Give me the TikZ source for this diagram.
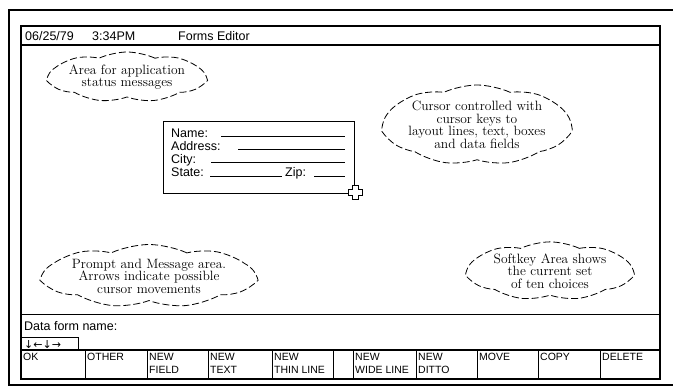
\documentclass[tikz,border=0pt]{standalone}
\usepackage{fontspec}
\setsansfont{Liberation Sans}
\newfontfamily\arrowfont{DejaVu Sans}
\usetikzlibrary{shapes.symbols}

\tikzset{
  note/.style={cloud, cloud puffs=9, cloud puff arc=50, cloud ignores aspect, draw, line width=0.8pt,
    dash pattern=on 7pt off 3pt, align=center, inner sep=0pt, font=\fontsize{13.5}{12.5}\selectfont},
  scrtext/.style={anchor=base west, inner sep=0pt, font=\sffamily\fontsize{12.5}{13}\selectfont},
  keylabel/.style={anchor=north west, align=left, inner sep=0pt, font=\sffamily\fontsize{10.5}{13.5}\selectfont},
}

\begin{document}
\begin{tikzpicture}[x=1pt,y=-1pt]
\useasboundingbox (0,0) rectangle (673,388);
% terminal and screen
\draw[line width=1.8pt] (673,10) -- (9,10) -- (9,385) -- (673,385);
\draw[line width=1.2pt] (21,26) rectangle (660,379);
\draw[line width=1.2pt] (21,45) -- (660,45);
\draw[line width=1pt] (21,314) -- (660,314);
\draw[line width=1.2pt] (21,350) -- (660,350);
\draw[line width=1pt] (21,337) -- (78,337) -- (78,350);

\node[scrtext] (date) at (25,40) {06/25/79};
\node[scrtext] (time) at (92,40) {3:34PM};
\node[scrtext] (title) at (178,40) {Forms Editor};

% the form
\node[draw, line width=1pt, anchor=north west, inner sep=0pt, minimum width=191, minimum height=72] (form) at (163,121) {};
\node[scrtext] (name) at (171,137) {Name:};
\node[scrtext] (address) at (171,150) {Address:};
\node[scrtext] (city) at (171,163) {City:};
\node[scrtext] (state) at (171,176) {State:};
\node[scrtext] (zip) at (285,176) {Zip:};
\draw[line width=1pt] (221,136) -- (345,136);
\draw[line width=1pt] (238,149) -- (345,149);
\draw[line width=1pt] (211,162) -- (345,162);
\draw[line width=1pt] (210,176) -- (282,176);
\draw[line width=1pt] (314,176) -- (345,176);
\draw[line width=1pt, fill=white] (352,185) -- (358,185) -- (358,189) -- (362,189) -- (362,195) -- (358,195)
  -- (358,199) -- (352,199) -- (352,195) -- (348,195) -- (348,189) -- (352,189) -- cycle;

% notes
\node[note, minimum width=155, minimum height=50] (status) at (127,77) {Area for application\\status messages};
\node[note, minimum width=187, minimum height=80] (cursor) at (477,125) {Cursor controlled with\\cursor keys to\\layout lines, text, boxes\\and data fields};
\node[note, minimum width=212, minimum height=63] (prompt) at (149,276) {Prompt and Message area.\\Arrows indicate possible\\cursor movements};
\node[note, minimum width=165, minimum height=58] (softkey) at (550,271) {Softkey Area shows\\the current set\\of ten choices};

% prompt line and softkeys
\node[scrtext] (prompttext) at (24,330) {Data form name:};
\node[anchor=base west, inner sep=0pt, font=\arrowfont\fontsize{11}{12}\selectfont] (arrows) at (24,348) {↓←↓→};
\foreach \x in {85,147,208,272,333,353,416,477,538,600}
  \draw[line width=1pt] (\x,350) -- (\x,379);
\foreach \x/\t [count=\i] in {21/OK, 85/OTHER, 147/{NEW\\FIELD}, 208/{NEW\\TEXT}, 272/{NEW\\THIN LINE},
    353/{NEW\\WIDE LINE}, 416/{NEW\\DITTO}, 477/MOVE, 538/COPY, 600/DELETE}
  \node[keylabel] (key\i) at (\x+2,353) {\t};
\end{tikzpicture}
\end{document}
